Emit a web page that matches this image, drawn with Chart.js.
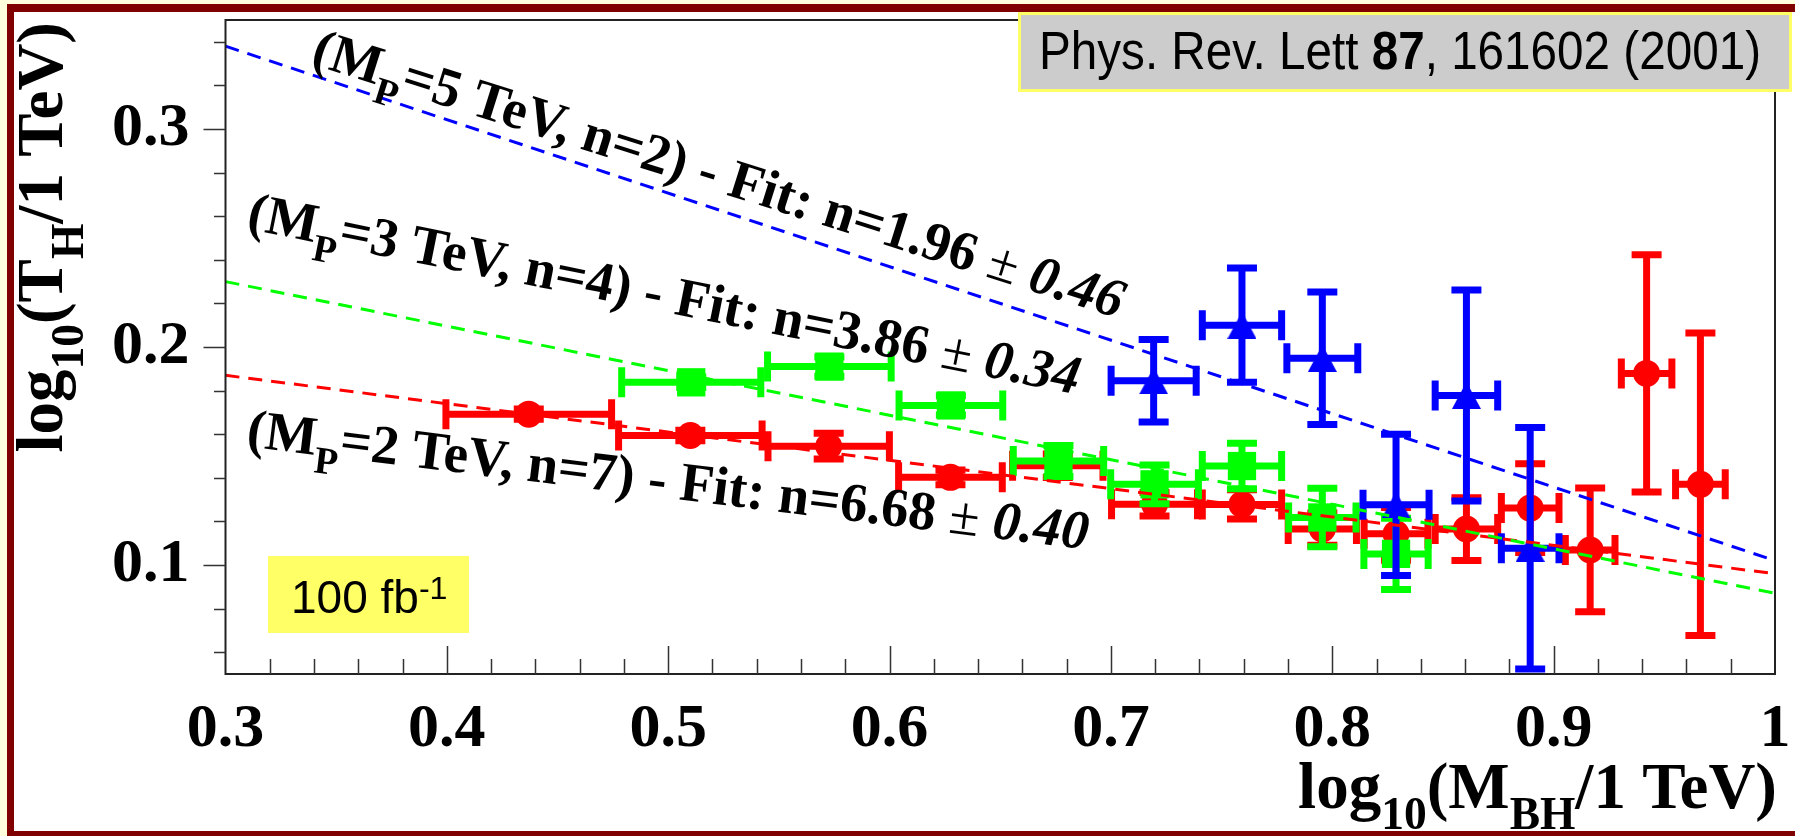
<!DOCTYPE html>
<html>
<head>
<meta charset="utf-8">
<script src="https://cdn.jsdelivr.net/npm/chart.js@4.4.1/dist/chart.umd.min.js"></script>
<style>
  html, body { margin: 0; padding: 0; background: #ffffdd; }
  #wrap { width: 1795px; height: 836px; }
</style>
</head>
<body>
<div id="wrap"><canvas id="chart" width="1795" height="836"></canvas></div>
<script>
// axis ticks
const xTickValues = [0.3, 0.4, 0.5, 0.6, 0.7, 0.8, 0.9, 1.0];
const xTickLabels = ['0.3', '0.4', '0.5', '0.6', '0.7', '0.8', '0.9', '1'];
const yTickValues = [0.1, 0.2, 0.3];
const yTickLabels = ['0.1', '0.2', '0.3'];

// M_P = 2 TeV, n = 7 (red circles)
const redX    = [0.437, 0.510, 0.5725, 0.6275, 0.676, 0.7197, 0.7592, 0.7955, 0.8288, 0.8606, 0.8894, 0.9165, 0.942, 0.9663];
const redY    = [0.1692, 0.1594, 0.1545, 0.1402, 0.1455, 0.1279, 0.1278, 0.1165, 0.1143, 0.1165, 0.1261, 0.1069, 0.1879, 0.1370];
const redXErr = [0.039, 0.034, 0.029, 0.025, 0.022, 0.021, 0.0195, 0.017, 0.016, 0.0157, 0.0146, 0.0128, 0.013, 0.0128];
const redYErr = [0.004, 0.004, 0.0075, 0.005, 0.007, 0.007, 0.0083, 0.009, 0.0137, 0.016, 0.022, 0.030, 0.056, 0.071];

// M_P = 3 TeV, n = 4 (green squares)
const greenX    = [0.5104, 0.5728, 0.6277, 0.6763, 0.7197, 0.7592, 0.7955, 0.8288];
const greenY    = [0.1838, 0.191, 0.1732, 0.1477, 0.137, 0.1454, 0.1218, 0.1051];
const greenXErr = [0.033, 0.0295, 0.025, 0.022, 0.0214, 0.0195, 0.0168, 0.0161];
const greenYErr = [0.004, 0.006, 0.006, 0.0087, 0.0105, 0.012, 0.015, 0.018];

// M_P = 5 TeV, n = 2 (blue triangles)
const blueX    = [0.7193, 0.7592, 0.7955, 0.8288, 0.8606, 0.8894];
const blueY    = [0.1845, 0.210, 0.1948, 0.1276, 0.1778, 0.1077];
const blueXErr = [0.0208, 0.0195, 0.0176, 0.0165, 0.0157, 0.0146];
const blueYErr = [0.0205, 0.0278, 0.032, 0.034, 0.050, 0.057];

// fit lines, end points
const fitX     = [0.3, 1.0];
const fitBlue  = [0.338, 0.102];
const fitGreen = [0.230, 0.087];
const fitRed   = [0.187, 0.096];

const SERIF = '"Liberation Serif", "Times New Roman", serif';
const SANS = '"Liberation Sans", Arial, sans-serif';

function pts(xs, ys) {
    return xs.map((x, i) => ({ x: x, y: ys[i] }));
}

// ROOT style full triangle, centred on the point
function triangleMarker(color) {
    const c = document.createElement('canvas');
    c.width = 29;
    c.height = 27;
    const g = c.getContext('2d');
    g.fillStyle = color;
    g.beginPath();
    g.moveTo(14.5, 0);
    g.lineTo(29, 27);
    g.lineTo(0, 27);
    g.closePath();
    g.fill();
    return c;
}

function fitSet(ys, color) {
    return {
        type: 'line',
        data: pts(fitX, ys),
        borderColor: color,
        borderWidth: 3,
        borderDash: [14, 9],
        pointRadius: 0,
        fill: false,
        showLine: true,
        clip: false
    };
}

function pointSet(xs, ys, xe, ye, color, style, radius) {
    return {
        data: pts(xs, ys),
        xErr: xe,
        yErr: ye,
        pointStyle: style,
        pointRadius: radius,
        backgroundColor: color,
        borderColor: color,
        borderWidth: 0,
        showLine: false,
        clip: false
    };
}

// rich text: parts = [{t, sub, sup, italic, weight}]
function drawRich(ctx, parts, x, y, angle, size, family, align, sx) {
    ctx.save();
    ctx.translate(x, y);
    ctx.rotate(angle * Math.PI / 180);
    if (sx) ctx.scale(sx, 1);
    let total = 0;
    const info = parts.map(p => {
        const s = (p.sub || p.sup) ? size * 0.7 : size;
        const f = (p.italic ? 'italic ' : '') + (p.weight || 'bold') + ' ' + s + 'px ' + family;
        ctx.font = f;
        const w = ctx.measureText(p.t).width;
        total += w;
        return { f: f, w: w, dy: p.sub ? size * 0.32 : (p.sup ? -size * 0.3 : 0) };
    });
    let cx = align === 'right' ? -total : 0;
    ctx.textBaseline = 'alphabetic';
    ctx.textAlign = 'left';
    ctx.fillStyle = '#000';
    parts.forEach((p, i) => {
        ctx.font = info[i].f;
        ctx.fillText(p.t, cx, info[i].dy);
        cx += info[i].w;
    });
    ctx.restore();
    return total;
}

function measureRich(ctx, parts, size, family) {
    let total = 0;
    parts.forEach(p => {
        const s = (p.sub || p.sup) ? size * 0.7 : size;
        ctx.font = (p.italic ? 'italic ' : '') + (p.weight || 'bold') + ' ' + s + 'px ' + family;
        total += ctx.measureText(p.t).width;
    });
    return total;
}

const fitLabels = [
    { x: 0.338, y: 0.3301, angle: 17.5, parts: [
        { t: '(M' }, { t: 'P', sub: true }, { t: '=5 TeV, n=2) - Fit: n=1.96 ' },
        { t: '\u00b1', weight: 'normal' }, { t: ' 0.46', italic: true }] },
    { x: 0.309, y: 0.2544, angle: 11.3, parts: [
        { t: '(M' }, { t: 'P', sub: true }, { t: '=3 TeV, n=4) - Fit: n=3.86 ' },
        { t: '\u00b1', weight: 'normal' }, { t: ' 0.34', italic: true }] },
    { x: 0.309, y: 0.1545, angle: 7, parts: [
        { t: '(M' }, { t: 'P', sub: true }, { t: '=2 TeV, n=7) - Fit: n=6.68 ' },
        { t: '\u00b1', weight: 'normal' }, { t: ' 0.40', italic: true }] }
];

const backgroundPlugin = {
    id: 'background',
    beforeDraw(chart) {
        const ctx = chart.ctx;
        const W = chart.width, H = chart.height;
        ctx.save();
        ctx.fillStyle = '#ffffdd';
        ctx.fillRect(0, 0, W, H);
        ctx.fillStyle = '#800000';
        ctx.fillRect(7, 4, W - 7, H - 4);
        ctx.fillStyle = '#ffffff';
        ctx.fillRect(14, 12, W - 14, 831 - 12);
        ctx.restore();
    }
};

const errorBarPlugin = {
    id: 'errorBars',
    beforeDatasetDraw(chart, args) {
        const ds = chart.data.datasets[args.index];
        if (!ds.xErr) return;
        const ctx = chart.ctx;
        const xs = chart.scales.x, ys = chart.scales.y;
        const cap = 15;
        const h = 3.5;
        ctx.save();
        ctx.strokeStyle = ds.borderColor;
        ctx.lineWidth = 7;
        ctx.lineCap = 'butt';
        ds.data.forEach((p, i) => {
            const px = xs.getPixelForValue(p.x);
            const py = ys.getPixelForValue(p.y);
            const x1 = xs.getPixelForValue(p.x - ds.xErr[i]);
            const x2 = xs.getPixelForValue(p.x + ds.xErr[i]);
            const y1 = ys.getPixelForValue(p.y + ds.yErr[i]);
            const y2 = ys.getPixelForValue(p.y - ds.yErr[i]);
            ctx.beginPath();
            ctx.moveTo(x1, py); ctx.lineTo(x2, py);
            ctx.moveTo(x1 + h, py - cap); ctx.lineTo(x1 + h, py + cap);
            ctx.moveTo(x2 - h, py - cap); ctx.lineTo(x2 - h, py + cap);
            ctx.moveTo(px, y1); ctx.lineTo(px, y2);
            ctx.moveTo(px - cap, y1 + h); ctx.lineTo(px + cap, y1 + h);
            ctx.moveTo(px - cap, y2 - h); ctx.lineTo(px + cap, y2 - h);
            ctx.stroke();
        });
        ctx.restore();
    }
};

const decorPlugin = {
    id: 'decor',
    afterDraw(chart) {
        const ctx = chart.ctx;
        const a = chart.chartArea;
        const xs = chart.scales.x, ys = chart.scales.y;
        ctx.save();

        // frame
        ctx.strokeStyle = '#222';
        ctx.lineWidth = 2;
        ctx.strokeRect(a.left, a.top, a.right - a.left, a.bottom - a.top);

        // tick marks
        ctx.strokeStyle = '#333';
        ctx.lineWidth = 1.5;
        ctx.beginPath();
        for (let k = 1; k < 35; k++) {
            const v = (30 + 2 * k) / 100;
            const px = Math.round(xs.getPixelForValue(v)) + 0.5;
            const len = (k % 5 === 0) ? 28 : 15;
            ctx.moveTo(px, a.bottom); ctx.lineTo(px, a.bottom - len);
        }
        for (let k = 0; k < 15; k++) {
            const v = (6 + 2 * k) / 100;
            const py = Math.round(ys.getPixelForValue(v)) + 0.5;
            const len = ((6 + 2 * k) % 10 === 0) ? 22 : 11.5;
            ctx.moveTo(a.left, py); ctx.lineTo(a.left - len, py);
        }
        ctx.stroke();

        // axis titles
        drawRich(ctx, [{ t: 'log' }, { t: '10', sub: true }, { t: '(M' }, { t: 'BH', sub: true }, { t: '/1 TeV)' }],
            1777, 808, 0, 65, SERIF, 'right');
        drawRich(ctx, [{ t: 'log' }, { t: '10', sub: true }, { t: '(T' }, { t: 'H', sub: true }, { t: '/1 TeV)' }],
            62, 22, -90, 65, SERIF, 'right');

        // fit labels
        fitLabels.forEach(l => {
            drawRich(ctx, l.parts, xs.getPixelForValue(l.x), ys.getPixelForValue(l.y), l.angle, 55, SERIF, 'left');
        });

        // luminosity box
        ctx.fillStyle = '#ffff66';
        ctx.fillRect(268, 556, 201, 77);
        drawRich(ctx, [{ t: '100 fb', weight: 'normal' }, { t: '-1', sup: true, weight: 'normal' }],
            291, 613, 0, 46, SANS, 'left');

        // reference box
        ctx.fillStyle = '#cccccc';
        ctx.fillRect(1018, 12, 774, 80);
        ctx.strokeStyle = '#ffff66';
        ctx.lineWidth = 3;
        ctx.strokeRect(1019.5, 13.5, 771, 77);
        const refParts = [{ t: 'Phys. Rev. Lett ', weight: 'normal' }, { t: '87', weight: 'bold' },
            { t: ', 161602 (2001)', weight: 'normal' }];
        const natural = measureRich(ctx, refParts, 53, SANS);
        drawRich(ctx, refParts, 1039, 69, 0, 53, SANS, 'left', 722 / natural);

        ctx.restore();
    }
};

function noPadding(scale) {
    scale.paddingTop = 0;
    scale.paddingBottom = 0;
    scale.paddingLeft = 0;
    scale.paddingRight = 0;
}

const ctx = document.getElementById('chart').getContext('2d');
const chart = new Chart(ctx, {
    type: 'scatter',
    data: {
        datasets: [
            fitSet(fitBlue, '#0000ff'),
            fitSet(fitGreen, '#00ff00'),
            fitSet(fitRed, '#ff0000'),
            pointSet(blueX, blueY, blueXErr, blueYErr, '#0000ff', triangleMarker('#0000ff'), 15),
            pointSet(greenX, greenY, greenXErr, greenYErr, '#00ff00', 'rect', 20),
            pointSet(redX, redY, redXErr, redYErr, '#ff0000', 'circle', 13.5)
        ]
    },
    options: {
        responsive: false,
        animation: false,
        devicePixelRatio: 1,
        layout: { padding: { top: 16, right: 18, left: 0, bottom: 0 } },
        plugins: {
            legend: { display: false },
            tooltip: { enabled: false }
        },
        scales: {
            x: {
                type: 'linear',
                min: 0.3,
                max: 1.0,
                grid: { display: false, drawTicks: false },
                border: { display: false },
                afterBuildTicks: function (scale) {
                    scale.ticks = xTickValues.map(v => ({ value: v }));
                },
                afterFit: function (scale) {
                    scale.height = 162;
                    noPadding(scale);
                },
                ticks: {
                    autoSkip: false,
                    maxRotation: 0,
                    padding: 19,
                    color: '#000',
                    font: { family: SERIF, size: 62, weight: 'bold' },
                    callback: function (value, index) {
                        return xTickLabels[index];
                    }
                }
            },
            y: {
                type: 'linear',
                min: 0.05,
                max: 0.35,
                grid: { display: false, drawTicks: false },
                border: { display: false },
                afterBuildTicks: function (scale) {
                    scale.ticks = yTickValues.map(v => ({ value: v }));
                },
                afterFit: function (scale) {
                    scale.width = 225.5;
                    noPadding(scale);
                },
                ticks: {
                    autoSkip: false,
                    padding: 36,
                    color: '#000',
                    font: { family: SERIF, size: 62, weight: 'bold' },
                    callback: function (value, index) {
                        return yTickLabels[index];
                    }
                }
            }
        }
    },
    plugins: [backgroundPlugin, errorBarPlugin, decorPlugin]
});
</script>
</body>
</html>
